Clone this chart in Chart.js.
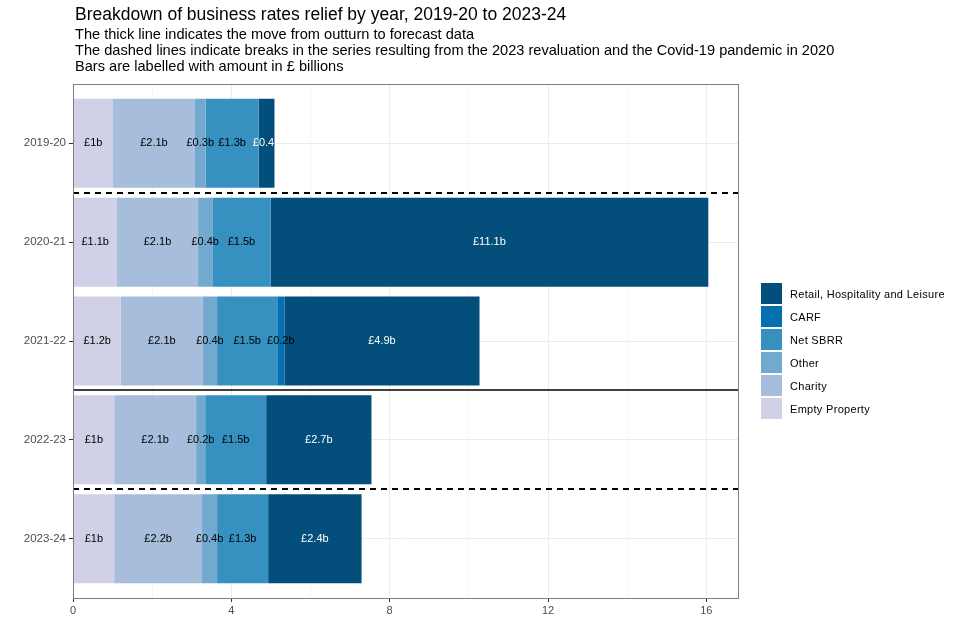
<!DOCTYPE html>
<html>
<head>
<meta charset="utf-8">
<script src="https://cdn.jsdelivr.net/npm/chart.js@4"></script>
<style>
  html, body { margin: 0; padding: 0; background: #fff; }
  #wrap { position: relative; width: 960px; height: 640px; font-family: "Liberation Sans", Arial, sans-serif; }
  #title { position: absolute; left: 75px; top: 3px; font-size: 17.5px; line-height: 22px; color: #000; white-space: nowrap; }
  #subtitle { position: absolute; left: 75px; top: 26px; font-size: 14.6px; line-height: 16px; color: #000; white-space: nowrap; }
  #legend { position: absolute; left: 761px; top: 282px; }
  .li { display: flex; align-items: center; height: 23px; }
  .sw { width: 21px; height: 21px; margin-right: 8px; }
  .lt { font-size: 11px; color: #000; letter-spacing: 0.3px; }
  canvas { position: absolute; left: 0; top: 0; }
</style>
</head>
<body>
<div id="wrap">
  <canvas id="c" width="960" height="640"></canvas>
  <div id="title">Breakdown of business rates relief by year, 2019-20 to 2023-24</div>
  <div id="subtitle">The thick line indicates the move from outturn to forecast data<br>The dashed lines indicate breaks in the series resulting from the 2023 revaluation and the Covid-19 pandemic in 2020<br>Bars are labelled with amount in £ billions</div>
  <div id="legend"></div>
</div>
<script>
const categories = ['2019-20', '2020-21', '2021-22', '2022-23', '2023-24'];
const emptyProperty = [1.01, 1.11, 1.21, 1.04, 1.04];
const charity = [2.07, 2.05, 2.07, 2.07, 2.22];
const other = [0.27, 0.36, 0.36, 0.23, 0.38];
const netSBRR = [1.34, 1.47, 1.52, 1.54, 1.29];
const carf = [0, 0, 0.18, 0, 0];
const rhl = [0.40, 11.06, 4.93, 2.66, 2.36];
const seriesNames = ['Empty Property', 'Charity', 'Other', 'Net SBRR', 'CARF', 'Retail, Hospitality and Leisure'];
const seriesValues = [emptyProperty, charity, other, netSBRR, carf, rhl];
const seriesColors = ['#d0d1e6', '#a6bddb', '#74a9cf', '#3690c0', '#0570b0', '#034e7b'];
const labelColors = ['#000', '#000', '#000', '#000', '#000', '#fff'];
const xTicks = [0, 4, 8, 12, 16];
const breakAfter = [0, 2, 3];
const breakDashed = [true, false, true];

const FONT = '"Liberation Sans", Arial, sans-serif';

// HTML legend (reversed order)
const legendEl = document.getElementById('legend');
for (let i = seriesNames.length - 1; i >= 0; i--) {
  const row = document.createElement('div');
  row.className = 'li';
  row.innerHTML = '<div class="sw" style="background:' + seriesColors[i] + '"></div><span class="lt">' + seriesNames[i] + '</span>';
  legendEl.appendChild(row);
}

function fmt(v) {
  const r = Math.round(v * 10) / 10;
  return '£' + (Number.isInteger(r) ? r.toFixed(0) : r.toFixed(1)) + 'b';
}

const labelsPlugin = {
  id: 'barLabels',
  afterDatasetsDraw(chart) {
    const ctx = chart.ctx;
    ctx.save();
    ctx.font = '11px ' + FONT;
    ctx.textAlign = 'center';
    ctx.textBaseline = 'middle';
    chart.data.datasets.forEach((ds, di) => {
      const meta = chart.getDatasetMeta(di);
      meta.data.forEach((bar, i) => {
        const v = seriesValues[di][i];
        if (!v) return;
        const p = bar.getProps(['x', 'y', 'base'], true);
        ctx.fillStyle = labelColors[di];
        ctx.fillText(fmt(v), (p.x + p.base) / 2, p.y);
      });
    });
    ctx.restore();
  }
};

const framePlugin = {
  id: 'frame',
  afterDraw(chart) {
    const { ctx, chartArea: a, scales } = chart;
    ctx.save();
    breakAfter.forEach((idx, k) => {
      const y = (scales.y.getPixelForValue(idx) + scales.y.getPixelForValue(idx + 1)) / 2;
      ctx.beginPath();
      ctx.strokeStyle = '#000';
      ctx.lineWidth = breakDashed[k] ? 2 : 1.5;
      ctx.setLineDash(breakDashed[k] ? [6, 5] : []);
      ctx.moveTo(a.left, Math.round(y));
      ctx.lineTo(a.right, Math.round(y));
      ctx.stroke();
    });
    ctx.setLineDash([]);
    ctx.strokeStyle = '#7f7f7f';
    ctx.lineWidth = 1;
    ctx.strokeRect(Math.round(a.left) + 0.5, Math.round(a.top) + 0.5, Math.round(a.right - a.left), Math.round(a.bottom - a.top));
    ctx.restore();
  }
};

new Chart(document.getElementById('c'), {
  type: 'bar',
  data: {
    datasets: seriesNames.map((n, i) => ({
      label: n,
      data: seriesValues[i].map((v, j) => ({ x: v, y: j })),
      backgroundColor: seriesColors[i],
      borderWidth: 0,
      barPercentage: 0.9,
      categoryPercentage: 1.0
    }))
  },
  options: {
    indexAxis: 'y',
    responsive: false,
    animation: false,
    devicePixelRatio: 1,
    layout: { padding: { left: 0, right: 222, top: 84, bottom: 20 } },
    plugins: { legend: { display: false }, tooltip: { enabled: false } },
    scales: {
      x: {
        type: 'linear',
        stacked: true,
        min: 0,
        max: 16.8,
        afterFit(s) { s.height = 22; },
        border: { display: false },
        grid: {
          color: (c) => (c.tick && c.tick.value % 4 === 0) ? '#ebebeb' : '#f5f5f5',
          tickColor: (c) => (c.tick && c.tick.value % 4 === 0) ? '#333333' : 'rgba(0,0,0,0)',
          tickLength: 4,
          lineWidth: 1
        },
        ticks: {
          stepSize: 2,
          includeBounds: false,
          autoSkip: false,
          maxRotation: 0,
          padding: 2,
          color: '#4d4d4d',
          font: { family: FONT, size: 11 },
          callback: (v) => xTicks.includes(v) ? String(v) : ''
        }
      },
      y: {
        type: 'linear',
        stacked: true,
        reverse: true,
        offset: false,
        min: -0.6,
        max: categories.length - 1 + 0.6,
        afterFit(s) { s.width = 73; },
        afterBuildTicks(s) { s.ticks = categories.map((_, i) => ({ value: i })); },
        border: { display: false },
        grid: {
          offset: false,
          color: '#ebebeb',
          tickColor: '#333333',
          tickLength: 4
        },
        ticks: {
          autoSkip: false,
          padding: 3,
          color: '#4d4d4d',
          font: { family: FONT, size: 11.5 },
          callback: (v) => categories[v] !== undefined ? categories[v] : ''
        }
      }
    }
  },
  plugins: [labelsPlugin, framePlugin]
});
</script>
</body>
</html>
